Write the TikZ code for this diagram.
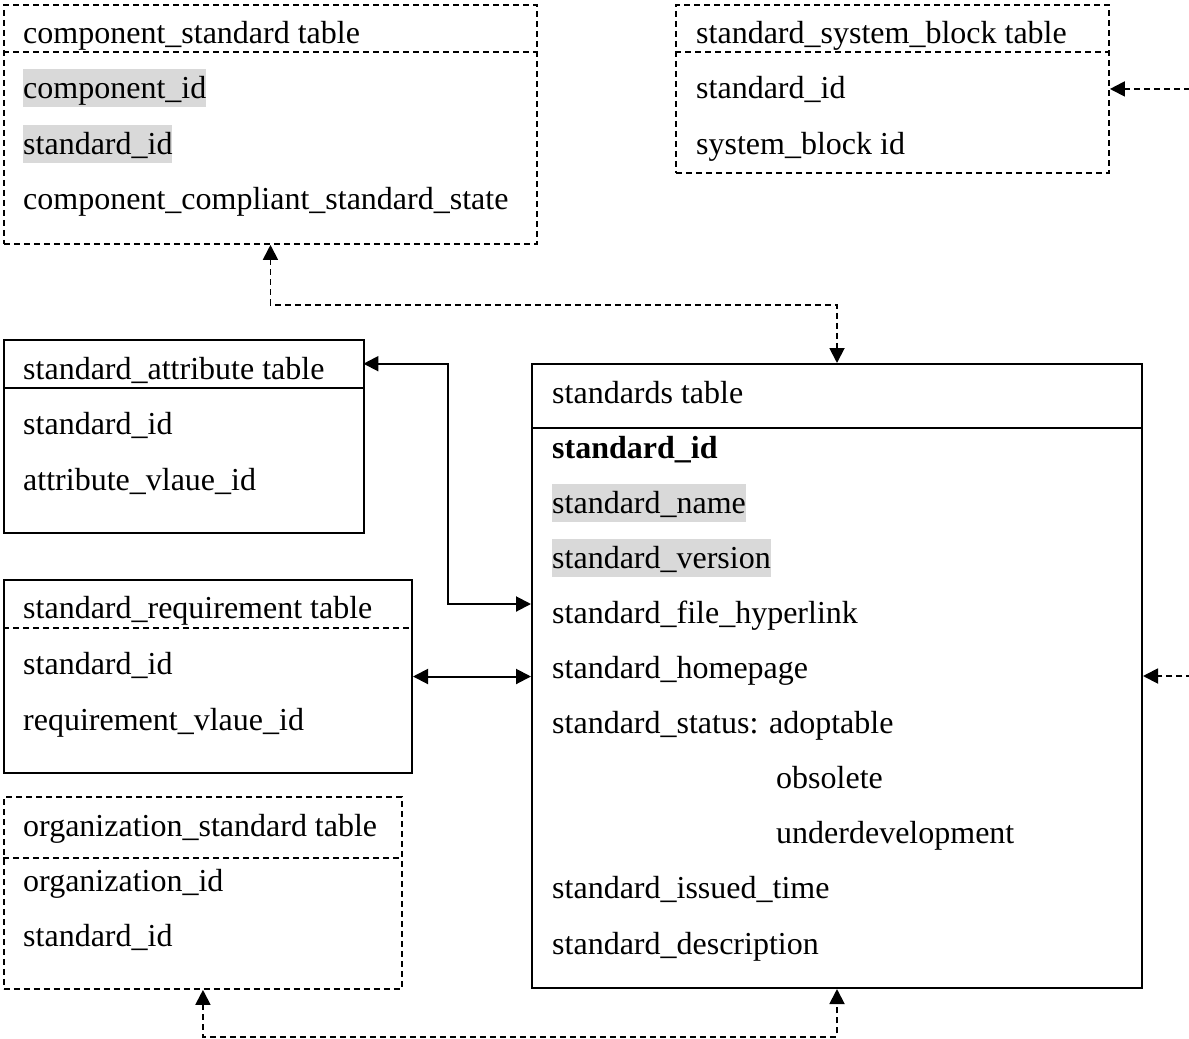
\documentclass[tikz,border=0pt]{standalone}
\usepackage{fontspec}
\setmainfont{Liberation Serif}
\usetikzlibrary{arrows.meta}
\definecolor{hlgray}{RGB}{217,217,217}
\begin{document}
\begin{tikzpicture}[x=1pt,y=-1pt,
  solidbox/.style={draw, line width=2pt, inner sep=0pt, anchor=north west},
  dashbox/.style={draw, line width=1.9pt, dash pattern=on 6pt off 4pt, inner sep=0pt, anchor=north west},
  hdrbox/.style={inner sep=0pt, anchor=north west},
  solidrule/.style={line width=2pt},
  dashrule/.style={line width=1.9pt, dash pattern=on 6pt off 4pt},
  field/.style={anchor=base west, inner sep=0pt, text height=29pt, text depth=9pt,
                font=\fontsize{32pt}{38pt}\selectfont},
  keyfield/.style={field, fill=hlgray},
  tip/.tip={Triangle[length=15pt,width=15pt]},
  conn/.style={line width=2pt, tip-tip},
  dconn/.style={conn, line width=1.9pt, dash pattern=on 6pt off 4pt},
]
\useasboundingbox (0,0) rectangle (1189,1039);

% ---------- component_standard table ----------
\node[dashbox, minimum width=533pt, minimum height=239pt] (cs) at (3,4) {};
\node[hdrbox, minimum width=533pt, minimum height=48pt] (csh) at (cs.north west) {};
\draw[dashrule] (csh.south west) -- (csh.south east);
\node[field]    (cs0) at (23,43)  {component\_standard table};
\node[keyfield] (cs1) at (23,98)  {component\_id};
\node[keyfield] (cs2) at (23,154) {standard\_id};
\node[field]    (cs3) at (23,209) {component\_compliant\_standard\_state};

% ---------- standard_system_block table ----------
\node[dashbox, minimum width=433pt, minimum height=168pt] (ssb) at (675,4) {};
\node[hdrbox, minimum width=433pt, minimum height=48pt] (ssbh) at (ssb.north west) {};
\draw[dashrule] (ssbh.south west) -- (ssbh.south east);
\node[field] (sb0) at (696,43)  {standard\_system\_block table};
\node[field] (sb1) at (696,98)  {standard\_id};
\node[field] (sb2) at (696,154) {system\_block id};

% ---------- standard_attribute table ----------
\node[solidbox, minimum width=360pt, minimum height=193pt] (att) at (3,339) {};
\node[hdrbox, minimum width=360pt, minimum height=49pt] (atth) at (att.north west) {};
\draw[solidrule] (atth.south west) -- (atth.south east);
\node[field] (at0) at (23,379) {standard\_attribute table};
\node[field] (at1) at (23,434) {standard\_id};
\node[field] (at2) at (23,490) {attribute\_vlaue\_id};

% ---------- standard_requirement table ----------
\node[solidbox, minimum width=408pt, minimum height=193pt] (req) at (3,579) {};
\node[hdrbox, minimum width=408pt, minimum height=49pt] (reqh) at (req.north west) {};
\draw[dashrule] (reqh.south west) -- (reqh.south east);
\node[field] (rq0) at (23,618) {standard\_requirement table};
\node[field] (rq1) at (23,674) {standard\_id};
\node[field] (rq2) at (23,730) {requirement\_vlaue\_id};

% ---------- organization_standard table ----------
\node[dashbox, minimum width=398pt, minimum height=192pt] (org) at (3,796) {};
\node[hdrbox, minimum width=398pt, minimum height=62pt] (orgh) at (org.north west) {};
\draw[dashrule] (orgh.south west) -- (orgh.south east);
\node[field] (og0) at (23,836) {organization\_standard table};
\node[field] (og1) at (23,891) {organization\_id};
\node[field] (og2) at (23,946) {standard\_id};

% ---------- standards table ----------
\node[solidbox, minimum width=610pt, minimum height=624pt] (std) at (531,363) {};
\node[hdrbox, minimum width=610pt, minimum height=65pt] (stdh) at (std.north west) {};
\draw[solidrule] (stdh.south west) -- (stdh.south east);
\node[field]    (st0)  at (552,403) {standards table};
\node[field]    (st1)  at (552,458) {\textbf{standard\_id}};
\node[keyfield] (st2)  at (552,513) {standard\_name};
\node[keyfield] (st3)  at (552,568) {standard\_version};
\node[field]    (st4)  at (552,623) {standard\_file\_hyperlink};
\node[field]    (st5)  at (552,678) {standard\_homepage};
\node[field]    (st6)  at (552,733) {standard\_status: adoptable};
\node[field]    (st7)  at (776,788) {obsolete};
\node[field]    (st8)  at (776,843) {underdevelopment};
\node[field]    (st9)  at (552,898) {standard\_issued\_time};
\node[field]    (st10) at (552,954) {standard\_description};

% entry point of the attribute link on the standards table
\coordinate (stdlink) at ([yshift=-241pt]std.north west);

% ---------- relations ----------
\draw[dconn] (cs.south) -- ++(0,60) -| (std.north);
\draw[dconn] (ssb.east) -- ++(80,0) |- (std.east);
\draw[conn]  (atth.east) -- ++(85,0) |- (stdlink);
\draw[conn]  (req.east) -- (req.east -| std.west);
\draw[dconn] (org.south) -- ++(0,47) -| (std.south);
\end{tikzpicture}
\end{document}
